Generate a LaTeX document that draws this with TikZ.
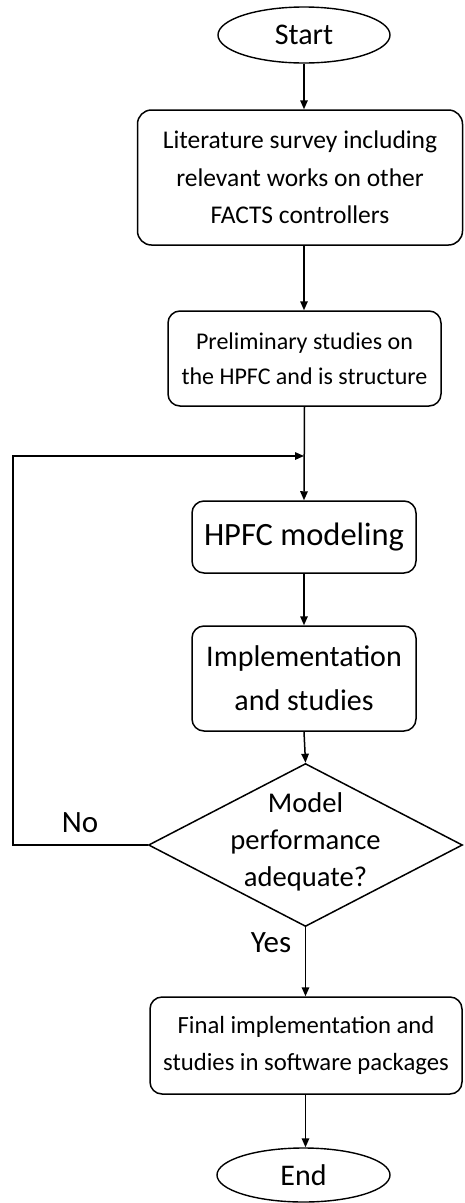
\documentclass[tikz,border=0pt]{standalone}
\usepackage{fontspec}
\setmainfont{Carlito}
\usetikzlibrary{shapes.geometric,arrows.meta}

\tikzset{
  flow/.style={line width=1.5pt, draw=black},
  arr/.style={flow, -{Triangle[length=9pt,width=7.5pt]}},
  stepbox/.style={draw=black, line width=1.5pt, rectangle, rounded corners=14pt,
    align=center, inner sep=0pt},
  terminal/.style={draw=black, line width=1.4pt, ellipse, inner sep=0pt,
    font=\fontsize{30}{36}\selectfont},
  lbl/.style={inner sep=0pt, font=\fontsize{31}{36}\selectfont},
}

\begin{document}
\begin{tikzpicture}[x=1pt, y=-1pt]
  \useasboundingbox (0,0) rectangle (464,1203);

  % terminals and process steps
  \node[terminal, minimum width=172pt, minimum height=56pt] (start) at (304,35) {Start};

  \node[stepbox, minimum width=325pt, minimum height=135pt,
        font=\fontsize{25.5}{37.5}\selectfont] (lit) at (300,177.5)
    {Literature survey including\\relevant works on other\\FACTS controllers};

  \node[stepbox, minimum width=273pt, minimum height=95pt, rounded corners=12pt,
        font=\fontsize{24}{35}\selectfont] (prelim) at (304.5,358.5)
    {Preliminary studies on\\the HPFC and is structure};

  \node[stepbox, minimum width=224pt, minimum height=72pt, rounded corners=12pt,
        font=\fontsize{32.5}{40}\selectfont] (model) at (304,537)
    {HPFC modeling};

  \node[stepbox, minimum width=224pt, minimum height=105pt, rounded corners=12pt,
        font=\fontsize{30}{44}\selectfont] (impl) at (304,678.5)
    {Implementation\\and studies};

  % decision
  \node[diamond, draw=black, line width=1.5pt, minimum width=314pt,
        minimum height=163pt, inner sep=0pt] (dec) at (305.5,845) {};
  \node[align=center, inner sep=0pt, font=\fontsize{28.6}{37}\selectfont]
    (dectext) at (305.5,842) {Model\\performance\\adequate?};

  \node[stepbox, minimum width=312pt, minimum height=97pt, rounded corners=12pt,
        font=\fontsize{24.7}{37}\selectfont] (final) at (306,1045.5)
    {Final implementation and\\studies in software packages};

  \node[terminal, minimum width=173pt, minimum height=54pt] (end) at (303.5,1175) {End};

  % branch labels
  \node[lbl] (no) at (80,823) {No};
  \node[lbl] (yes) at (271,943) {Yes};

  % main flow
  \draw[arr] (start.south) -- (start.south |- lit.north);
  \draw[arr] (start.south |- lit.south) -- (start.south |- prelim.north);
  \draw[arr] (prelim.south) -- (model.north);
  \draw[arr] (model.south) -- (impl.north);
  \draw[arr] (impl.south) -- (dec.north);
  \draw[arr] (dec.south) -- (dec.south |- final.north);
  \draw[arr] (dec.south |- final.south) -- (dec.south |- end.north);

  % feedback loop on "No"
  \coordinate (fbl) at (13,845);
  \coordinate (fbt) at (13,456);
  \draw[arr] (dec.west) -- (fbl) -- (fbt) -- (fbt -| model.north);
\end{tikzpicture}
\end{document}
